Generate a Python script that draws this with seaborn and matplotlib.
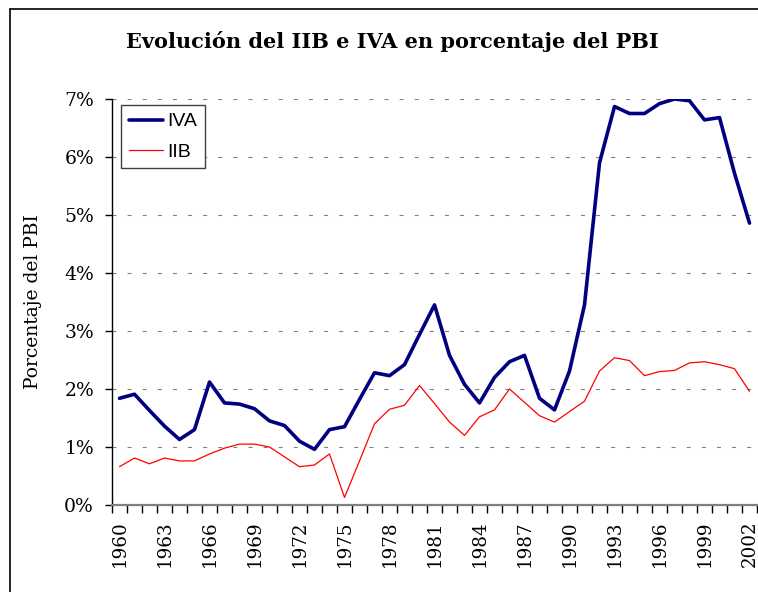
import matplotlib
matplotlib.use("Agg")
import matplotlib.pyplot as plt
import seaborn as sns
import pandas as pd
from matplotlib.lines import Line2D
from matplotlib.ticker import FuncFormatter

years = list(range(1960, 2003))
iva = [1.84, 1.91, 1.63, 1.36, 1.13, 1.30, 2.12, 1.76, 1.74, 1.66,
       1.45, 1.37, 1.10, 0.96, 1.30, 1.35, 1.82, 2.28, 2.23, 2.42,
       2.94, 3.45, 2.58, 2.08, 1.76, 2.20, 2.47, 2.58, 1.84, 1.64,
       2.31, 3.45, 5.90, 6.87, 6.75, 6.75, 6.92, 7.00, 6.97, 6.64,
       6.68, 5.72, 4.86]
iib = [0.66, 0.81, 0.71, 0.81, 0.76, 0.76, 0.88, 0.98, 1.05, 1.05,
       1.00, 0.83, 0.66, 0.69, 0.88, 0.13, 0.76, 1.40, 1.65, 1.72,
       2.06, 1.75, 1.43, 1.20, 1.52, 1.64, 2.00, 1.77, 1.54, 1.43,
       1.61, 1.79, 2.31, 2.54, 2.49, 2.23, 2.30, 2.32, 2.45, 2.47,
       2.42, 2.35, 1.96]
series_names = ["IVA", "IIB"]
label_years = list(range(1960, 2003, 3))
y_ticks = [0, 1, 2, 3, 4, 5, 6, 7]

title = "Evolución del IIB e IVA en porcentaje del PBI"
ylabel = "Porcentaje del PBI"

df = pd.DataFrame({"Año": years * 2,
                   "valor": iva + iib,
                   "serie": [series_names[0]] * len(years) + [series_names[1]] * len(years)})

sns.set_theme(style="white")
plt.rcParams["font.family"] = ["DejaVu Serif"]
plt.rcParams["text.color"] = "black"
plt.rcParams["axes.labelcolor"] = "black"
plt.rcParams["xtick.color"] = "black"
plt.rcParams["ytick.color"] = "black"

fig = plt.figure(figsize=(7.58, 5.92), dpi=100)
W, H = 758, 592
ax = fig.add_axes([112 / W, 1 - 505 / H, (757 - 112) / W, (505 - 99) / H])

sns.lineplot(data=df, x="Año", y="valor", hue="serie", size="serie",
             sizes={"IVA": 2.6, "IIB": 0.9},
             palette={"IVA": "#000080", "IIB": "#FF0000"},
             ax=ax, legend=False)

ax.set_xlim(years[0] - 0.5, years[-1] + 0.5)
ax.set_ylim(0, 7)
ax.set_yticks(y_ticks)
ax.yaxis.set_major_formatter(FuncFormatter(lambda v, p: f"{int(round(v))}%"))
ax.tick_params(axis="y", which="major", direction="out", length=5, width=1,
               color="black", labelcolor="black", pad=8, labelsize=13.5, left=True)

# category boundary ticks (major, unlabeled) and label years (minor, no tick mark)
bounds = [y - 0.5 for y in years] + [years[-1] + 0.5]
ax.set_xticks(bounds)
ax.set_xticklabels([""] * len(bounds))
ax.set_xticks(label_years, minor=True)
ax.set_xticklabels([str(y) for y in label_years], minor=True, rotation=90)
ax.tick_params(axis="x", which="major", direction="out", length=5.5, width=1,
               color="black", bottom=True)
ax.tick_params(axis="x", which="minor", length=0, pad=11, labelsize=13.2,
               labelcolor="black")

ax.set_xlabel("")
ax.set_ylabel(ylabel, fontsize=13.5, color="black")
ax.yaxis.set_label_coords(-0.108, 0.5)

for s in ["top", "right"]:
    ax.spines[s].set_visible(False)
ax.spines["left"].set_color("black")
ax.spines["left"].set_linewidth(1)
ax.spines["bottom"].set_color("#808080")
ax.spines["bottom"].set_linewidth(1.6)

ax.grid(False)
for v in y_ticks[1:]:
    ax.axhline(v, color="#808080", lw=0.8, linestyle=(0, (3.6, 10)), zorder=0.5)

handles = [Line2D([], [], color="#000080", lw=2.6),
           Line2D([], [], color="#FF0000", lw=0.9)]
leg = ax.legend(handles, series_names, loc="upper left",
                bbox_to_anchor=(9 / 645, 1 - 6 / 406), borderaxespad=0,
                frameon=True, fancybox=False, shadow=False,
                prop={"family": "Liberation Sans", "size": 14},
                handlelength=1.75, handletextpad=0.25, labelspacing=0.65,
                borderpad=0.4)
for t in leg.get_texts():
    t.set_color("black")
leg.get_frame().set_edgecolor("#404040")
leg.get_frame().set_linewidth(1)
leg.get_frame().set_facecolor("white")
leg.get_frame().set_alpha(1)

fig.text(392 / W, 1 - 41 / H, title, ha="center", va="center",
         fontsize=15, fontweight="bold", color="black")

fig.add_artist(Line2D([10 / W, 10 / W], [0, 1 - 9 / H], color="black", lw=1.2,
                      transform=fig.transFigure))
fig.add_artist(Line2D([10 / W, 1], [1 - 9 / H, 1 - 9 / H], color="black", lw=1.2,
                      transform=fig.transFigure))

fig.savefig("out.png", dpi=100)
